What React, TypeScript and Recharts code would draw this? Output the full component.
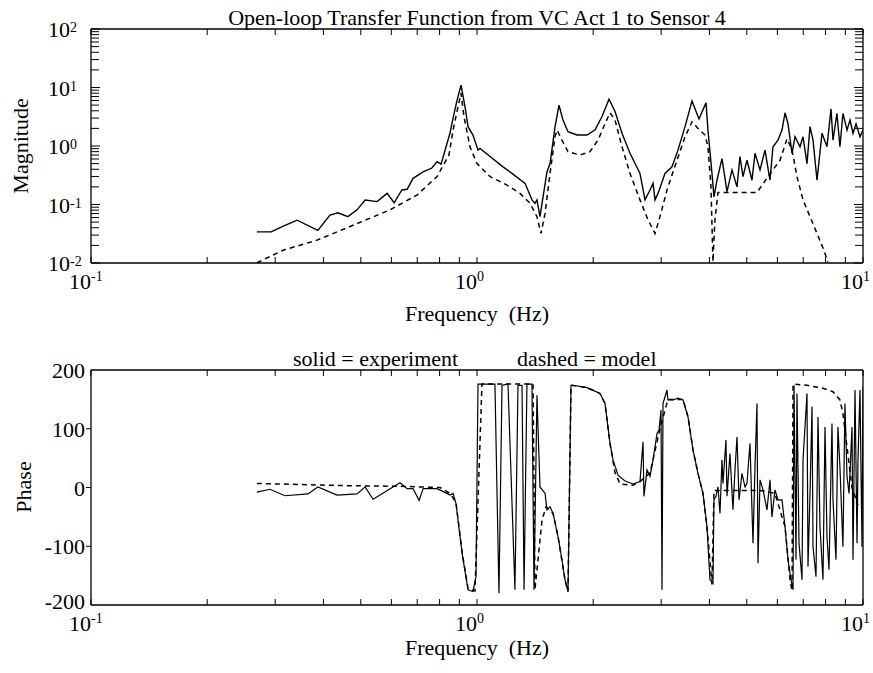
import React from 'react';
import { LineChart, Line, XAxis, YAxis } from 'recharts';

const FONT = '"Liberation Serif", "Times New Roman", Times, serif';

// ---- tick definitions ----
const X_DECADES = [0.1, 1, 10];
const X_DECADE_EXPONENTS = ['-1', '0', '1'];
const X_MINOR_TICKS = [0.2, 0.3, 0.4, 0.5, 0.6, 0.7, 0.8, 0.9, 2, 3, 4, 5, 6, 7, 8, 9];
const MAG_DECADES = [0.01, 0.1, 1, 10, 100];
const MAG_DECADE_EXPONENTS = ['-2', '-1', '0', '1', '2'];
const MAG_MINOR_TICKS = [
  0.02, 0.03, 0.04, 0.05, 0.06, 0.07, 0.08, 0.09,
  0.2, 0.3, 0.4, 0.5, 0.6, 0.7, 0.8, 0.9,
  2, 3, 4, 5, 6, 7, 8, 9,
  20, 30, 40, 50, 60, 70, 80, 90,
];
const PHASE_TICKS = [-200, -100, 0, 100, 200];
const PHASE_TICK_LABELS = ['-200', '-100', '0', '100', '200'];

// ---- magnitude, experiment (solid) ----
const expMagFreq = [0.269, 0.293, 0.316, 0.342, 0.387, 0.416, 0.436, 0.463, 0.489, 0.513, 0.551, 0.585, 0.610, 0.639, 0.659, 0.683, 0.725, 0.764, 0.788, 0.807, 0.851, 0.867, 0.888, 0.909, 0.931, 0.948, 0.976, 1.006, 1.018, 1.081, 1.168, 1.232, 1.332, 1.388, 1.413, 1.430, 1.456, 1.483, 1.518, 1.546, 1.593, 1.631, 1.670, 1.721, 1.816, 1.928, 2.021, 2.108, 2.198, 2.278, 2.375, 2.491, 2.644, 2.724, 2.807, 2.858, 2.892, 2.944, 3.069, 3.200, 3.316, 3.459, 3.606, 3.759, 3.920, 3.966, 4.062, 4.111, 4.185, 4.312, 4.443, 4.577, 4.716, 4.800, 4.887, 5.006, 5.157, 5.250, 5.410, 5.574, 5.741, 5.845, 6.023, 6.168, 6.281, 6.393, 6.548, 6.666, 6.868, 6.992, 7.160, 7.290, 7.422, 7.600, 7.830, 8.067, 8.262, 8.361, 8.560, 8.715, 8.872, 9.091, 9.254, 9.421, 9.592, 9.822, 10];
const expMagValue = [0.034, 0.034, 0.043, 0.054, 0.036, 0.066, 0.072, 0.062, 0.081, 0.119, 0.112, 0.155, 0.107, 0.177, 0.182, 0.28, 0.36, 0.42, 0.54, 0.49, 1.65, 3.0, 6.1, 11, 4.7, 2.14, 1.54, 0.85, 0.91, 0.66, 0.44, 0.34, 0.23, 0.12, 0.105, 0.12, 0.062, 0.135, 0.36, 0.5, 2.14, 5.0, 2.78, 1.75, 1.54, 1.54, 1.87, 3.2, 6.3, 3.9, 1.65, 0.75, 0.34, 0.12, 0.177, 0.23, 0.12, 0.155, 0.34, 0.44, 0.85, 2.14, 5.9, 2.9, 5.5, 1.87, 0.34, 0.135, 0.26, 0.61, 0.166, 0.39, 0.2, 0.66, 0.30, 0.57, 0.26, 0.75, 0.39, 0.85, 0.26, 0.97, 1.26, 1.87, 3.7, 2.4, 0.75, 1.44, 0.97, 1.44, 0.5, 2.14, 1.26, 0.26, 1.65, 0.97, 4.3, 1.26, 3.6, 0.97, 3.6, 1.87, 2.78, 1.65, 2.4, 1.44, 1.87];

// ---- magnitude, model (dashed) ----
const modelMagFreq = [0.269, 0.316, 0.385, 0.469, 0.595, 0.699, 0.788, 0.831, 0.846, 0.867, 0.893, 0.909, 0.925, 0.959, 1.0, 1.081, 1.196, 1.292, 1.372, 1.430, 1.465, 1.501, 1.546, 1.593, 1.612, 1.660, 1.721, 1.849, 1.962, 2.058, 2.146, 2.211, 2.278, 2.375, 2.491, 2.644, 2.773, 2.892, 2.979, 3.106, 3.297, 3.459, 3.606, 3.737, 3.896, 3.966, 4.038, 4.086, 4.135, 4.210, 4.800, 5.313, 5.674, 6.095, 6.356, 6.548, 6.745, 6.992, 7.290, 7.600, 7.877, 8.114];
const modelMagValue = [0.0101, 0.0167, 0.0246, 0.042, 0.081, 0.145, 0.30, 0.57, 0.70, 1.87, 4.7, 8.0, 3.2, 0.97, 0.50, 0.30, 0.215, 0.155, 0.105, 0.062, 0.032, 0.071, 0.34, 1.44, 1.87, 1.26, 0.8, 0.70, 0.8, 1.26, 2.4, 3.7, 2.78, 0.97, 0.34, 0.12, 0.055, 0.032, 0.062, 0.177, 0.57, 1.44, 2.6, 2.0, 1.54, 0.97, 0.2, 0.0105, 0.055, 0.16, 0.16, 0.16, 0.3, 0.57, 1.33, 0.85, 0.30, 0.12, 0.062, 0.032, 0.018, 0.0105];

// ---- phase, experiment (solid) ----
const expPhaseFreq = [0.269, 0.291, 0.318, 0.365, 0.387, 0.434, 0.489, 0.513, 0.538, 0.606, 0.632, 0.659, 0.683, 0.708, 0.725, 0.788, 0.836, 0.851, 0.867, 0.882, 0.915, 0.948, 0.976, 0.994, 1.006, 1.113, 1.140, 1.161, 1.203, 1.254, 1.277, 1.308, 1.324, 1.347, 1.388, 1.405, 1.430, 1.456, 1.501, 1.518, 1.546, 1.574, 1.622, 1.660, 1.690, 1.721, 1.752, 1.773, 1.928, 2.083, 2.146, 2.211, 2.251, 2.319, 2.418, 2.536, 2.644, 2.692, 2.707, 2.757, 2.807, 2.858, 2.927, 2.962, 2.997, 3.015, 3.033, 3.106, 3.124, 3.219, 3.316, 3.418, 3.521, 3.627, 3.737, 3.850, 3.943, 4.014, 4.086, 4.111, 4.160, 4.210, 4.261, 4.312, 4.338, 4.416, 4.443, 4.522, 4.604, 4.660, 4.716, 4.773, 4.858, 4.946, 5.006, 5.096, 5.188, 5.250, 5.313, 5.345, 5.410, 5.508, 5.640, 5.741, 5.809, 5.916, 6.023, 6.168, 6.281, 6.393, 6.509, 6.588, 6.626, 6.706, 6.745, 6.827, 6.950, 6.992, 7.160, 7.203, 7.290, 7.378, 7.422, 7.555, 7.646, 7.737, 7.877, 7.972, 8.067, 8.164, 8.311, 8.361, 8.511, 8.611, 8.715, 8.872, 8.979, 9.091, 9.200, 9.365, 9.421, 9.535, 9.650, 9.706, 9.822, 9.940, 10];
const expPhaseValue = [-8, -3, -14, -11, 1, -13, -11, 1, -20, 1, 8, -2, -2, -22, -2, -2, -10, -13, -10, -27, -112, -174, -177, -152, 176, 176, -180, 174, 176, -174, 174, 174, -174, 176, 176, -174, 157, 1, -10, -38, -33, -44, -84, -123, -157, -177, 174, 174, 170, 160, 143, 75, 47, 21, 11, 6, 10, 78, -15, 30, 19, 47, 92, 98, 132, -174, 143, 166, 149, 149, 152, 149, 120, 64, 24, -10, -67, -157, -163, -21, -15, 1, -44, 47, 7, 81, -15, 58, -38, 30, 86, -21, 24, 1, 7, 75, -95, 35, 143, -129, 13, -4, -38, 13, -50, -4, -21, -21, -67, -123, -157, -174, 174, -123, 160, -95, -157, 47, 160, -135, -10, 138, -101, -152, 120, -67, -157, 103, -84, -140, 109, -21, -123, 103, 35, -101, 143, 19, -10, 103, -123, 166, -95, 47, 166, -101, 172];

// ---- phase, model (dashed) ----
const modelPhaseFreq = [0.269, 0.348, 0.469, 0.632, 0.802, 0.851, 0.882, 0.915, 0.948, 0.988, 1.030, 1.308, 1.397, 1.413, 1.439, 1.474, 1.510, 1.574, 1.622, 1.690, 1.721, 1.752, 1.928, 2.083, 2.146, 2.211, 2.278, 2.348, 2.536, 2.644, 2.807, 2.979, 3.124, 3.418, 3.521, 3.627, 3.737, 3.850, 3.943, 4.062, 4.111, 5.410, 5.916, 6.281, 6.471, 6.548, 6.588, 7.160, 7.877, 8.361, 8.715, 8.872, 9.091, 9.365, 9.706];
const modelPhaseValue = [7, 5, 3, 2, 0, -10, -25, -110, -172, -176, 176, 176, 176, -174, -123, -55, -33, -44, -84, -157, -177, 174, 170, 160, 143, 75, 25, 6, 4, 10, 25, 100, 150, 150, 120, 64, 24, -10, -67, -165, -5, -5, -10, -67, -157, -176, 176, 174, 169, 163, 149, 126, 69, 0, -30];

const zip = (fs: number[], vs: number[]) => fs.map((f, i) => ({ f, v: vs[i] }));
const expMag = zip(expMagFreq, expMagValue);
const modelMag = zip(modelMagFreq, modelMagValue);
const expPhase = zip(expPhaseFreq, expPhaseValue);
const modelPhase = zip(modelPhaseFreq, modelPhaseValue);

const X_ALL_TICKS = [...X_DECADES, ...X_MINOR_TICKS].sort((a, b) => a - b);
const MAG_ALL_TICKS = [...MAG_DECADES, ...MAG_MINOR_TICKS].sort((a, b) => a - b);

const xBottomTick = (props: any) => {
  const { x, y, payload } = props;
  const i = X_DECADES.indexOf(payload.value);
  return (
    <g>
      <line x1={x} x2={x} y1={y} y2={y - 6} stroke="#000" strokeWidth={1} />
      {i >= 0 && (
        <g>
          <text x={x} y={y + 26} textAnchor="end" fontFamily={FONT} fontSize={22} fill="#000">10</text>
          <text x={x} y={y + 18} textAnchor="start" fontFamily={FONT} fontSize={14} fill="#000">{X_DECADE_EXPONENTS[i]}</text>
        </g>
      )}
    </g>
  );
};

const xTopTick = (props: any) => {
  const { x, y } = props;
  return <line x1={x} x2={x} y1={y} y2={y + 6} stroke="#000" strokeWidth={1} />;
};

const magLeftTick = (props: any) => {
  const { x, y, payload } = props;
  const i = MAG_DECADES.indexOf(payload.value);
  return (
    <g>
      <line x1={x} x2={x + (i >= 0 ? 9 : 8)} y1={y} y2={y} stroke="#000" strokeWidth={1} />
      {i >= 0 && (
        <text x={x - 43} y={y + 8} fontFamily={FONT} fontSize={22} fill="#000">
          10<tspan dy={-5} fontSize={14}>{MAG_DECADE_EXPONENTS[i]}</tspan>
        </text>
      )}
    </g>
  );
};

const magRightTick = (props: any) => {
  const { x, y, payload } = props;
  const i = MAG_DECADES.indexOf(payload.value);
  return <line x1={x} x2={x - (i >= 0 ? 9 : 8)} y1={y} y2={y} stroke="#000" strokeWidth={1} />;
};

const phaseLeftTick = (props: any) => {
  const { x, y, payload } = props;
  const i = PHASE_TICKS.indexOf(payload.value);
  const edge = payload.value === 200 || payload.value === -200;
  const dy = payload.value === -200 ? 4 : 8;
  return (
    <g>
      {!edge && <line x1={x - 5} x2={x} y1={y} y2={y} stroke="#000" strokeWidth={1} />}
      <text x={x - 6} y={y + dy} textAnchor="end" fontFamily={FONT} fontSize={22} fill="#000">
        {PHASE_TICK_LABELS[i]}
      </text>
    </g>
  );
};

const axisLine = { stroke: '#000', strokeWidth: 1.3 };

const xAxes = () => [
  <XAxis key="xb" xAxisId="b" dataKey="f" type="number" scale="log" domain={[0.1, 10]} allowDataOverflow
    ticks={X_ALL_TICKS} interval={0} tickSize={0} tickMargin={0} height={1} tickLine={false}
    axisLine={axisLine} tick={xBottomTick} />,
  <XAxis key="xt" xAxisId="t" orientation="top" dataKey="f" type="number" scale="log" domain={[0.1, 10]} allowDataOverflow
    ticks={X_ALL_TICKS} interval={0} tickSize={0} tickMargin={0} height={1} tickLine={false}
    axisLine={axisLine} tick={xTopTick} />,
];

export default function App() {
  return (
    <div style={{ position: 'absolute', left: 0, top: 0, width: 873, height: 673, background: '#fff' }}>
      <div style={{ position: 'absolute', left: 0, top: 0 }}>
        <LineChart width={873} height={320} margin={{ top: 28, right: 9, bottom: 56, left: 90 }}>
          {xAxes()}
          <YAxis yAxisId="l" type="number" scale="log" domain={[0.01, 100]} allowDataOverflow
            ticks={MAG_ALL_TICKS} interval={0} tickSize={0} tickMargin={0} width={1} tickLine={false}
            axisLine={axisLine} tick={magLeftTick} />
          <YAxis yAxisId="r" orientation="right" type="number" scale="log" domain={[0.01, 100]} allowDataOverflow
            ticks={MAG_ALL_TICKS} interval={0} tickSize={0} tickMargin={0} width={1} tickLine={false}
            axisLine={axisLine} tick={magRightTick} />
          <Line xAxisId="b" yAxisId="l" data={modelMag} dataKey="v" type="linear" dot={false} activeDot={false}
            stroke="#000" strokeWidth={1.5} strokeDasharray="5 4" isAnimationActive={false} />
          <Line xAxisId="b" yAxisId="l" data={expMag} dataKey="v" type="linear" dot={false} activeDot={false}
            stroke="#000" strokeWidth={1.4} isAnimationActive={false} />
        </LineChart>
      </div>
      <div style={{ position: 'absolute', left: 0, top: 320 }}>
        <LineChart width={873} height={353} margin={{ top: 49, right: 9, bottom: 67, left: 90 }}>
          {xAxes()}
          <YAxis yAxisId="l" type="number" domain={[-200, 200]} allowDataOverflow
            ticks={PHASE_TICKS} interval={0} tickSize={0} tickMargin={0} width={1} tickLine={false}
            axisLine={axisLine} tick={phaseLeftTick} />
          <YAxis yAxisId="r" orientation="right" type="number" domain={[-200, 200]} allowDataOverflow
            ticks={PHASE_TICKS} interval={0} tickSize={0} tickMargin={0} width={1} tickLine={false}
            axisLine={axisLine} tick={false} />
          <Line xAxisId="b" yAxisId="l" data={modelPhase} dataKey="v" type="linear" dot={false} activeDot={false}
            stroke="#000" strokeWidth={1.5} strokeDasharray="5 4" isAnimationActive={false} />
          <Line xAxisId="b" yAxisId="l" data={expPhase} dataKey="v" type="linear" dot={false} activeDot={false}
            stroke="#000" strokeWidth={1.2} isAnimationActive={false} />
        </LineChart>
      </div>
      <svg width={873} height={673} style={{ position: 'absolute', left: 0, top: 0, pointerEvents: 'none' }}
        fontFamily={FONT} fill="#000">
        <text x={477} y={25} textAnchor="middle" fontSize={22}>Open-loop Transfer Function from VC Act 1 to Sensor 4</text>
        <text transform="translate(28,146) rotate(-90)" textAnchor="middle" fontSize={22}>Magnitude</text>
        <text x={477} y={321} textAnchor="middle" fontSize={22} style={{ whiteSpace: 'pre' }}>{'Frequency  (Hz)'}</text>
        <text x={293} y={366} fontSize={22}>solid = experiment</text>
        <text x={517} y={366} fontSize={22}>dashed = model</text>
        <text transform="translate(31,487) rotate(-90)" textAnchor="middle" fontSize={22}>Phase</text>
        <text x={477} y={655} textAnchor="middle" fontSize={22} style={{ whiteSpace: 'pre' }}>{'Frequency  (Hz)'}</text>
      </svg>
    </div>
  );
}
